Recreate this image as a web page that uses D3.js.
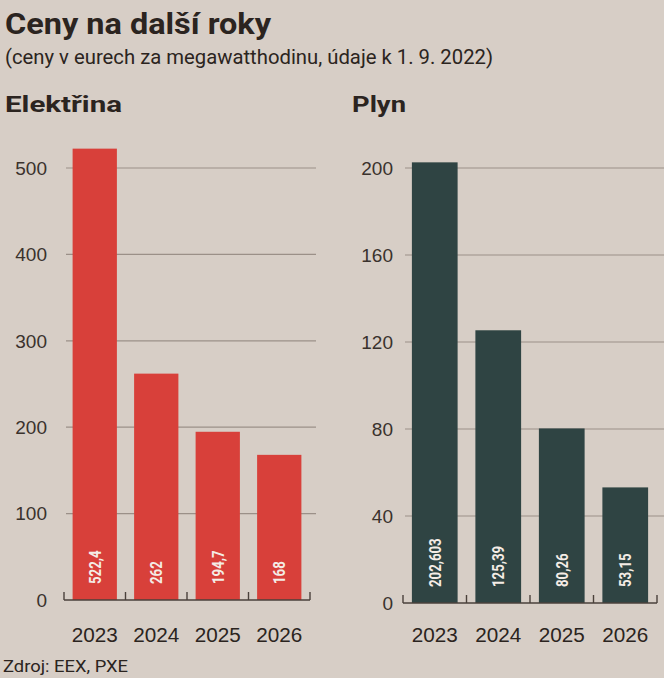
<!DOCTYPE html>
<html><head><meta charset="utf-8">
<script src="https://cdn.jsdelivr.net/npm/d3@7"></script>
<style>
html,body{margin:0;padding:0;background:#d7cec6;}
svg{display:block;}
</style></head>
<body>
<svg id="c" width="664" height="678"></svg>
<script>
const years = ["2023","2024","2025","2026"];
const elecValues = [522.4, 262, 194.7, 168];
const elecLabels = ["522,4","262","194,7","168"];
const elecTicks = [0,100,200,300,400,500];
const gasValues = [202.603, 125.39, 80.26, 53.15];
const gasLabels = ["202,603","125,39","80,26","53,15"];
const gasTicks = [0,40,80,120,160,200];

const svg = d3.select("#c");
const ink = "#2b2420";
const narrow = "'Liberation Sans Narrow', Roboto, 'Liberation Sans', sans-serif";
const sans = "'Liberation Sans', Roboto, Arial, sans-serif";

svg.append("rect").attr("width",664).attr("height",678).attr("fill","#d7cec6");

svg.append("text").attr("x",5).attr("y",34).text("Ceny na další roky")
  .attr("font-family",narrow).attr("font-weight","bold").attr("font-size",30)
  .attr("fill",ink).attr("textLength",266).attr("lengthAdjust","spacingAndGlyphs");
svg.append("text").attr("x",5).attr("y",64).text("(ceny v eurech za megawatthodinu, údaje k 1. 9. 2022)")
  .attr("font-family",narrow).attr("font-size",19.5)
  .attr("fill",ink).attr("textLength",488).attr("lengthAdjust","spacingAndGlyphs");

function panel(o){
  const g = svg.append("g");
  g.append("text").attr("x",o.titleX).attr("y",112).text(o.title)
    .attr("font-family",narrow).attr("font-weight","bold").attr("font-size",22)
    .attr("fill",ink).attr("textLength",o.titleW).attr("lengthAdjust","spacingAndGlyphs");
  const x = d3.scaleBand().domain(years).range(o.xr).paddingInner(0.28).paddingOuter(0.14);
  const y = d3.scaleLinear().domain([0,o.max]).range([o.y0,o.yTop]);
  g.selectAll(".grid").data(o.ticks.filter(t=>t>0)).join("line")
    .attr("x1",o.gridX[0]).attr("x2",o.gridX[1])
    .attr("y1",d=>y(d)).attr("y2",d=>y(d))
    .attr("stroke","#9b9088").attr("stroke-width",1.2);
  g.selectAll(".yl").data(o.ticks).join("text")
    .attr("x",o.labelX).attr("y",d=>y(d)).attr("dy","0.36em")
    .attr("text-anchor","end").text(d=>d)
    .attr("font-family",sans).attr("font-size",19).attr("fill","#3a322d");
  g.selectAll(".bar").data(o.values).join("rect")
    .attr("x",(d,i)=>x(years[i])).attr("width",x.bandwidth())
    .attr("y",d=>y(d)).attr("height",d=>y(0)-y(d))
    .attr("fill",o.color);
  g.selectAll(".vl").data(o.labels).join("text")
    .attr("transform",(d,i)=>`translate(${x(years[i])+x.bandwidth()/2},${y(0)-16}) rotate(-90) scale(0.8,1)`)
    .attr("dy","0.36em").attr("text-anchor","start").text(d=>d)
    .attr("font-family",narrow).attr("font-weight","bold").attr("font-size",16.5).attr("fill","#f4ece6");
  const step = x.step();
  const tickXs = d3.range(years.length+1).map(i=>o.xr[0]+i*step);
  g.append("line").attr("x1",o.xr[0]).attr("x2",o.xr[1]).attr("y1",y(0)).attr("y2",y(0))
    .attr("stroke","#4a413b").attr("stroke-width",1.6);
  g.selectAll(".tk").data(tickXs).join("line")
    .attr("x1",d=>d).attr("x2",d=>d).attr("y1",y(0)).attr("y2",y(0)-8)
    .attr("stroke","#4a413b").attr("stroke-width",1.4);
  g.selectAll(".xl").data(years).join("text")
    .attr("x",d=>x(d)+x.bandwidth()/2).attr("y",642).attr("text-anchor","middle").text(d=>d)
    .attr("font-family",sans).attr("font-size",20).attr("fill",ink)
    .attr("textLength",46).attr("lengthAdjust","spacingAndGlyphs");
}

panel({title:"Elektřina",titleX:5,titleW:117,xr:[64,310],gridX:[66,316],labelX:47,
  max:500,ticks:elecTicks,y0:600,yTop:168,values:elecValues,labels:elecLabels,color:"#d8403a"});
panel({title:"Plyn",titleX:352,titleW:54,xr:[403,657],gridX:[405,664],labelX:393,
  max:200,ticks:gasTicks,y0:603,yTop:168,values:gasValues,labels:gasLabels,color:"#2f4443"});

svg.append("text").attr("x",3).attr("y",672).text("Zdroj: EEX, PXE")
  .attr("font-family",narrow).attr("font-size",17).attr("fill",ink)
  .attr("textLength",125).attr("lengthAdjust","spacingAndGlyphs");
</script>
</body></html>
